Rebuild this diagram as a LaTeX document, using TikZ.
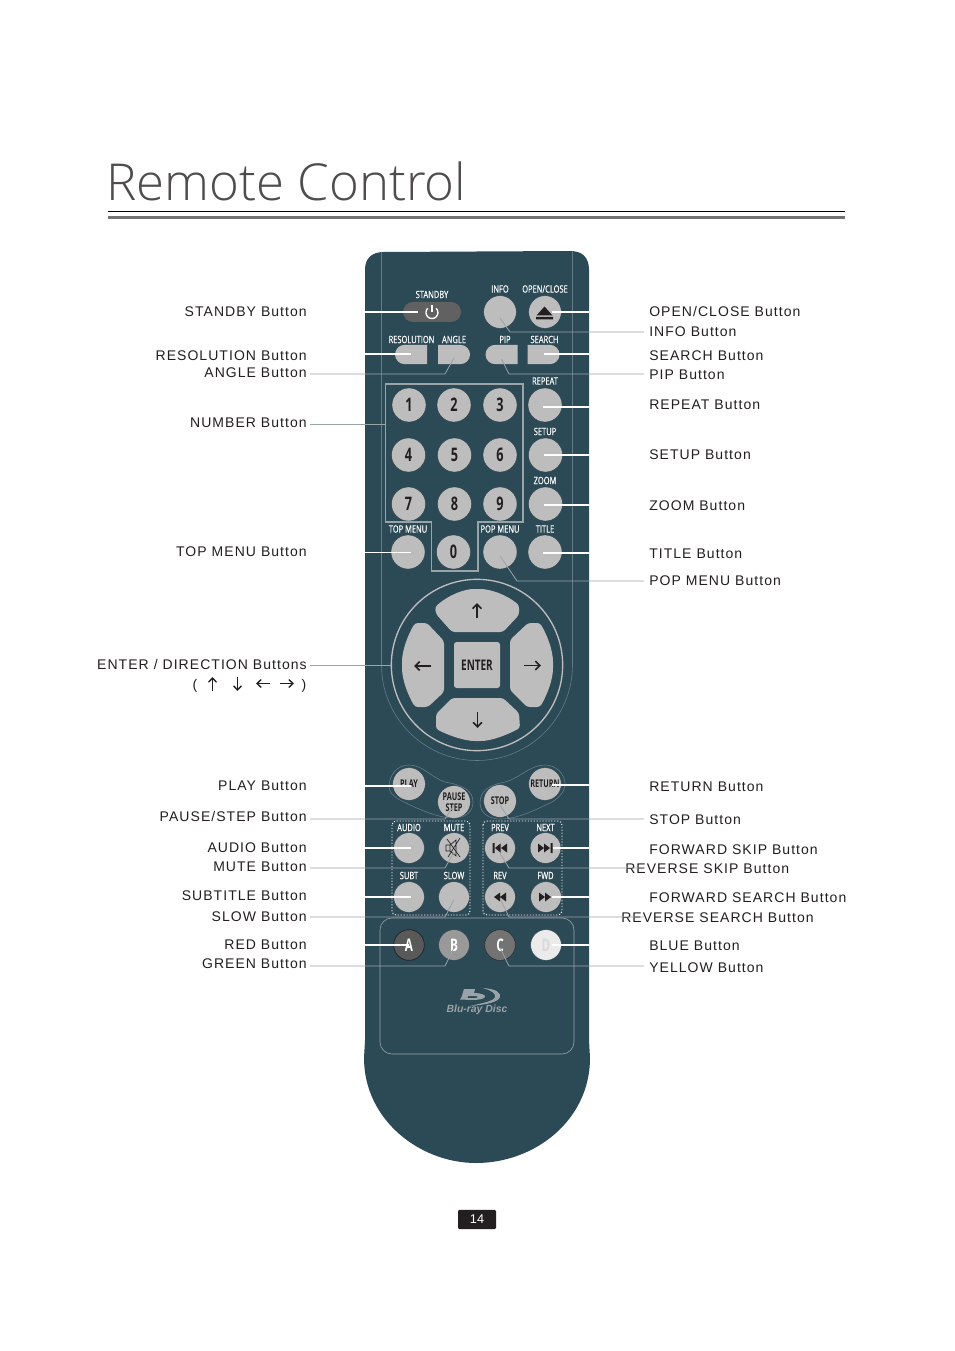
\documentclass[tikz,border=0pt]{standalone}
\usepackage{fontspec}
\usetikzlibrary{shapes.misc,arrows.meta}
\setmainfont{Liberation Sans}
\newfontfamily\lblfont[LetterSpace=7.5]{Liberation Sans}
\newfontfamily\condfont[FakeStretch=0.68]{Open Sans}
\newfontfamily\capfont[FakeStretch=0.74,FakeBold=0.6]{Open Sans}
\newfontfamily\titlefont{Open Sans Light}
\definecolor{rbody}{HTML}{2C4956}
\definecolor{rkey}{HTML}{BDBDBD}
\definecolor{rthin}{HTML}{637C87}
\definecolor{rlead}{HTML}{9AA3A7}
\definecolor{rink}{HTML}{231F20}
\tikzset{
 lbl/.style={inner sep=0pt,text height=7.6pt,text depth=0pt,font=\lblfont\fontsize{10.5pt}{12pt}\selectfont,text=rink},
 lblL/.style={lbl,anchor=east},
 lblR/.style={lbl,anchor=west},
 keyb/.style={circle,fill=rkey,draw=rbody!70!black,line width=0.2pt,inner sep=0pt,minimum size=24.5pt,text=rink,align=center},
 keys/.style={keyb,minimum size=23pt},
 digit/.style={keyb,minimum size=25.5pt,font=\condfont\bfseries\fontsize{14pt}{14pt}\selectfont},
 smalltext/.style={font=\condfont\bfseries\fontsize{8pt}{8.5pt}\selectfont,text=rink},
 keycap/.style={inner sep=0pt,text=white,font=\capfont\fontsize{7.6pt}{8pt}\selectfont},
 halfkey/.style={rounded rectangle,fill=rkey,inner sep=0pt,minimum width=24pt,minimum height=14.5pt},
 wire/.style={white,line width=0.95pt},
 leader/.style={rlead,line width=0.6pt},
 thinline/.style={rthin,line width=0.45pt},
 frameline/.style={rlead,line width=0.9pt},
 dotbox/.style={white,line width=0.7pt,dash pattern=on 0.9pt off 1.3pt,rounded corners=3pt},
 dirkey/.style={fill=rkey,rounded corners=2.2pt},
 glyph/.style={rink,line width=1.4pt,-{Straight Barb[length=3.4pt,width=6.5pt,line width=1.2pt]}},
 legendarrow/.style={rink,line width=1pt,-{Straight Barb[length=3.2pt,width=6pt,line width=1pt]}},
}
\newcommand{\wireR}[3]{\draw[wire] ([xshift=#2,yshift=#3]#1.center) coordinate (tmpw) -- (tmpw -| bodyR);}
\newcommand{\wireL}[3]{\draw[wire] ([xshift=#2,yshift=#3]#1.center) coordinate (tmpw) -- (tmpw -| bodyL);}
\begin{document}
\begin{tikzpicture}[x=0.75pt,y=-0.75pt]
\useasboundingbox (0,0) rectangle (954,1351);
\fill[white] (0,0) rectangle (954,1351);
% title
\node[anchor=base west,inner sep=0pt,text=rink!80,font=\titlefont\fontsize{38.2pt}{42pt}\selectfont] (title) at (106,201) {Remote Control};
\coordinate (ruleA) at (108,211.8); \coordinate (ruleB) at (845,211.8);
\coordinate (ruleC) at (108,217.5); \coordinate (ruleD) at (845,217.5);
\draw[black,line width=0.6pt] (ruleA) -- (ruleB);
\draw[black!55,line width=2pt] (ruleC) -- (ruleD);
% body
\fill[rbody] (365,270) .. controls (365,258) and (372,252) .. (384,252) -- (570,251)
  .. controls (582,251) and (589,257) .. (589,270) -- (589,1040) -- (590,1058)
  .. controls (590,1120) and (535,1163) .. (476,1163)
  .. controls (420,1163) and (364,1120) .. (364,1058) -- (365,1040) -- cycle;
\coordinate (bodyL) at (365,0); \coordinate (bodyR) at (589,0);
\draw[thinline] (381.5,252) -- (381.5,665) arc[start angle=180,end angle=0,radius=95.5] -- (572.5,251);
% number frame
\draw[frameline] (385.5,384) -- (523,384) -- (523,522) -- (478,522) -- (478,571) -- (431.5,571) -- (431.5,522) -- (385.5,522) -- cycle;
\coordinate (numW) at (385.5,424);
% captions
\node[keycap] (cStandby) at (432,294.5) {STANDBY};
\node[keycap] (cInfo) at (500,289) {INFO};
\node[keycap] (cOpen) at (545,289) {OPEN/CLOSE};
\node[keycap] (cRes) at (411.5,339.5) {RESOLUTION};
\node[keycap] (cAngle) at (454,339.5) {ANGLE};
\node[keycap] (cPip) at (505,339.5) {PIP};
\node[keycap] (cSearch) at (544.5,339.5) {SEARCH};
\node[keycap] (cRepeat) at (545,381) {REPEAT};
\node[keycap] (cSetup) at (545,431.5) {SETUP};
\node[keycap] (cZoom) at (545,480.5) {ZOOM};
\node[keycap] (cTop) at (408,529) {TOP MENU};
\node[keycap] (cPop) at (500,529) {POP MENU};
\node[keycap] (cTitle) at (545,529) {TITLE};
\node[keycap] (cAudio) at (409,827.5) {AUDIO};
\node[keycap] (cMute) at (454,827.5) {MUTE};
\node[keycap] (cPrev) at (500,827.5) {PREV};
\node[keycap] (cNext) at (545.5,827.5) {NEXT};
\node[keycap] (cSubt) at (409,875.5) {SUBT};
\node[keycap] (cSlow) at (454,875.5) {SLOW};
\node[keycap] (cRev) at (500,875.5) {REV};
\node[keycap] (cFwd) at (545.5,875.5) {FWD};
% top keys
\node[rounded rectangle,fill=black!62,minimum width=43.5pt,minimum height=15pt,inner sep=0pt] (standby) at (432,312) {};
\draw[white,line width=1pt] (436.2,308.3) arc[start angle=-45,end angle=225,radius=6];
\draw[white,line width=1pt] (432,305) -- (432,312);
\node[keyb] (info) at (500,312) {};
\node[keyb] (open) at (545,312) {};
\fill[rink] (536,317) -- (553,317) -- (553,319.5) -- (536,319.5) -- cycle (536.5,315.5) -- (544.5,306.5) -- (552.5,315.5) -- cycle;
\node[halfkey,rounded rectangle east arc=none] (res) at (411,354.5) {};
\node[halfkey,rounded rectangle west arc=none] (angle) at (454,354.5) {};
\node[halfkey,rounded rectangle east arc=none] (pip) at (501.5,354.5) {};
\node[halfkey,rounded rectangle west arc=none] (search) at (543.5,354.5) {};
% number keys
\node[digit] (k1) at (409,405) {1};
\node[digit] (k2) at (454,405) {2};
\node[digit] (k3) at (500,405) {3};
\node[digit] (repeat) at (545,405) {};
\node[digit] (k4) at (408.5,455) {4};
\node[digit] (k5) at (454.5,455) {5};
\node[digit] (k6) at (500,455) {6};
\node[digit] (setup) at (545.5,455) {};
\node[digit] (k7) at (408.5,504) {7};
\node[digit] (k8) at (454.5,504) {8};
\node[digit] (k9) at (500,504) {9};
\node[digit] (zoom) at (545.5,504) {};
\node[digit] (topmenu) at (408,552) {};
\node[digit] (k0) at (453.5,552) {0};
\node[digit] (popmenu) at (500,552) {};
\node[digit] (titlekey) at (545,552) {};
% direction pad
\node[circle,draw=rkey,line width=1pt,minimum size=128.5pt,inner sep=0pt] (dpad) at (477,665) {};
\fill[dirkey] (477,632) -- (452,632) -- (436,614) -- (435,607) .. controls (450,594) and (465,589) .. (477,589) .. controls (490,589) and (505,594) .. (519,605) -- (519,615) -- (503,632) -- cycle;
\fill[dirkey] (477,698) -- (503,698) -- (519,713) -- (520,728) .. controls (505,736) and (490,741) .. (478,741) .. controls (465,741) and (450,736) .. (436,729) -- (436,714) -- (452,698) -- cycle;
\fill[dirkey] (444,665) -- (444,692) -- (428,707) -- (415,707) .. controls (408,695) and (402,680) .. (402,665) .. controls (402,650) and (408,635) .. (415,623) -- (427,623) -- (444,641) -- cycle;
\fill[dirkey] (510,665) -- (510,640) -- (528,623) -- (540,623) .. controls (547,635) and (553,650) .. (553,665) .. controls (553,680) and (547,695) .. (540,707) -- (527,707) -- (510,690) -- cycle;
\node[fill=rkey,rounded corners=2pt,minimum width=34.5pt,minimum height=34.5pt,inner sep=0pt,text=rink,font=\condfont\bfseries\fontsize{11pt}{12pt}\selectfont] (enter) at (477,665) {ENTER};
\draw[glyph] (477,618) -- (477,603);
\draw[glyph] (477.5,712) -- (477.5,728);
\draw[glyph] (431,666) -- (414,666);
\draw[glyph] (524,665.5) -- (541,665.5);
% play/stop blobs
\draw[thinline] (389,787) .. controls (389,774) and (398,765) .. (409,765) .. controls (423,765) and (432,778) .. (445,782) .. controls (462,785) and (473,790) .. (473,802) .. controls (473,812) and (465,818) .. (454,818) .. controls (438,818) and (420,810) .. (400,800) .. controls (393,796) and (389,792) .. (389,787) -- cycle;
\draw[thinline] (565,784) .. controls (565,774) and (556,765) .. (545,765) .. controls (530,765) and (520,778) .. (505,782) .. controls (490,785) and (480,790) .. (480,803) .. controls (480,813) and (489,819) .. (500,819) .. controls (518,819) and (535,810) .. (552,802) .. controls (560,797) and (565,791) .. (565,784) -- cycle;
\node[keyb,smalltext] (play) at (409,784) {PLAY};
\node[keyb,smalltext] (pause) at (454,802) {PAUSE\\STEP};
\node[keyb,smalltext] (stop) at (500,801) {STOP};
\node[keyb,smalltext] (return) at (545,784) {RETURN};
% dotted boxes
\draw[dotbox] (392,821) rectangle (470,915);
\draw[dotbox] (483,821) rectangle (562,915);
\node[keys] (audio) at (409,848) {};
\node[keys] (mute) at (454,848) {};
\node[keys] (prev) at (500,848) {};
\node[keys] (next) at (545.5,848) {};
\node[keys] (subt) at (409,897) {};
\node[keys] (slow) at (454,897) {};
\node[keys] (rev) at (500,897) {};
\node[keys] (fwd) at (546,897) {};
% icons
\draw[rink,line width=0.5pt] (446,845) -- (450,845) -- (456,840) -- (456,856) -- (450,851) -- (446,851) -- cycle (450,845) -- (450,851) (448,857) -- (460,838);
\draw[rink,line width=0.5pt] (447,839) -- (460,857);
\fill[rink] (492.5,843) rectangle (494.5,853) (495,848) -- (500.5,843.5) -- (500.5,852.5) -- cycle (501,848) -- (507,843.5) -- (507,852.5) -- cycle;
\fill[rink] (538,843.5) -- (544,848) -- (538,852.5) -- cycle (544,843.5) -- (550,848) -- (544,852.5) -- cycle (550.5,843) rectangle (552.5,853);
\fill[rink] (494,897) -- (500,892.5) -- (500,901.5) -- cycle (500,897) -- (506,892.5) -- (506,901.5) -- cycle;
\fill[rink] (539,892.5) -- (545,897) -- (539,901.5) -- cycle (545,892.5) -- (551,897) -- (545,901.5) -- cycle;
% colour keys
\draw[rlead,line width=0.45pt,rounded corners=9pt] (380,918) rectangle (574,1054);
\tikzset{colorkey/.style={keys,font=\condfont\bfseries\fontsize{13pt}{14pt}\selectfont,text=white}}
\node[colorkey,fill=black!65,draw=rink,line width=0.5pt] (keyA) at (409,945) {A};
\node[colorkey,fill=black!40] (keyB) at (454,945) {B};
\node[colorkey,fill=black!55,draw=rink,line width=0.3pt] (keyC) at (500,945) {C};
\node[colorkey,fill=black!8,text=black!15!white] (keyD) at (546,945) {D};
% blu-ray logo
\fill[rlead] (483,988) .. controls (497,989) and (501,993) .. (500,997) .. controls (499,1002) and (485,1005) .. (470,1006) .. controls (483,1003) and (494,1001) .. (495,997) .. controls (496,993) and (490,990) .. (483,988) -- cycle;
\fill[rlead,even odd rule] (464,989) -- (475,989) -- (474,993) .. controls (481,993) and (486,995) .. (485,997) .. controls (484,999) and (478,1000) .. (472,1000) -- (460,999.5) -- (461.5,997) -- cycle (468,996) -- (467.5,998) -- (475,998) .. controls (478,998) and (479,996) .. (475,996) -- cycle;
\node[inner sep=0pt,text=rlead,font=\fontsize{7.8pt}{8pt}\selectfont\bfseries\itshape] (blu) at (477,1010) {Blu-ray Disc};
% page number
\node[fill=rink,text=white,rounded corners=1pt,minimum width=28.5pt,minimum height=14.5pt,inner sep=0pt,font=\fontsize{9.5pt}{10pt}\selectfont] (page) at (477,1219.5) {14};
% white wires
\wireL{standby}{-10.5pt}{0pt}
\wireL{res}{0pt}{0.4pt}
\wireL{topmenu}{2.2pt}{-0.5pt}
\wireL{play}{1.5pt}{-1.5pt}
\wireL{audio}{1.5pt}{0pt}
\wireL{subt}{1.5pt}{0pt}
\wireL{keyA}{0pt}{0pt}
\wireR{open}{5.25pt}{0pt}
\wireR{search}{0pt}{0.4pt}
\wireR{repeat}{-1.5pt}{-1.5pt}
\wireR{setup}{-1.5pt}{0pt}
\wireR{zoom}{-1.5pt}{-0.7pt}
\wireR{titlekey}{-1.5pt}{-0.7pt}
\wireR{return}{5.25pt}{-0.7pt}
\wireR{next}{5.25pt}{0pt}
\wireR{fwd}{4.5pt}{0pt}
\wireR{keyD}{4.5pt}{0pt}
% labels left
\node[lblL] (lStandby) at (307,311) {STANDBY Button};
\node[lblL] (lRes) at (307,355) {RESOLUTION Button};
\node[lblL] (lAngle) at (307,372) {ANGLE Button};
\node[lblL] (lNumber) at (307,422) {NUMBER Button};
\node[lblL] (lTop) at (307,551) {TOP MENU Button};
\node[lblL] (lEnter) at (307,664) {ENTER / DIRECTION Buttons};
\node[lbl] (pOpen) at (195,684) {(};
\node[lbl] (pClose) at (304,684) {)};
\node[lblL] (lPlay) at (307,785) {PLAY Button};
\node[lblL] (lPause) at (307,816) {PAUSE/STEP Button};
\node[lblL] (lAudio) at (307,847) {AUDIO Button};
\node[lblL] (lMute) at (307,866) {MUTE Button};
\node[lblL] (lSubt) at (307,895) {SUBTITLE Button};
\node[lblL] (lSlow) at (307,916) {SLOW Button};
\node[lblL] (lRed) at (307,944) {RED Button};
\node[lblL] (lGreen) at (307,963) {GREEN Button};
\draw[legendarrow] (212.5,691) -- (212.5,677);
\draw[legendarrow] (237.5,677) -- (237.5,691);
\draw[legendarrow] (270,683.5) -- (256,683.5);
\draw[legendarrow] (280,683.5) -- (294,683.5);
% labels right
\node[lblR] (rOpen) at (649,311) {OPEN/CLOSE Button};
\node[lblR] (rInfo) at (649,331) {INFO Button};
\node[lblR] (rSearch) at (649,355) {SEARCH Button};
\node[lblR] (rPip) at (649,374) {PIP Button};
\node[lblR] (rRepeat) at (649,404) {REPEAT Button};
\node[lblR] (rSetup) at (649,454) {SETUP Button};
\node[lblR] (rZoom) at (649,505) {ZOOM Button};
\node[lblR] (rTitle) at (649,553) {TITLE Button};
\node[lblR] (rPop) at (649,580) {POP MENU Button};
\node[lblR] (rReturn) at (649,786) {RETURN Button};
\node[lblR] (rStop) at (649,819) {STOP Button};
\node[lblR] (rFSkip) at (649,849) {FORWARD SKIP Button};
\node[lblR] (rRSkip) at (625,868) {REVERSE SKIP Button};
\node[lblR] (rFSearch) at (649,897) {FORWARD SEARCH Button};
\node[lblR] (rRSearch) at (621,917) {REVERSE SEARCH Button};
\node[lblR] (rBlue) at (649,945) {BLUE Button};
\node[lblR] (rYellow) at (649,967) {YELLOW Button};
% grey leaders left
\coordinate (eAngle) at (310,374);
\coordinate (eNumber) at (310,424);
\coordinate (eEnter) at (310,665);
\coordinate (ePause) at (310,819);
\coordinate (eMute) at (310,868);
\coordinate (eSlow) at (310,917);
\coordinate (eGreen) at (310,966);
\draw[leader] (eAngle) -- (445,374) -- ([yshift=-2.5pt]angle.center);
\draw[leader] (eNumber) -- (numW);
\draw[leader] (eEnter) -- (dpad.west);
\draw[leader] (ePause) -- (445,819) -- ([yshift=-2.5pt]pause.center);
\draw[leader] (eMute) -- (445,868) -- ([yshift=-3pt]mute.center);
\draw[leader] (eSlow) -- (445,917) -- ([yshift=-2pt]slow.center);
\draw[leader] (eGreen) -- (445,966) -- ([yshift=-2pt]keyB.center);
% grey leaders right
\coordinate (fInfo) at (644,332);
\coordinate (fPip) at (644,374);
\coordinate (fPop) at (644,581);
\coordinate (fStop) at (644,819);
\coordinate (fPrev) at (644,868);
\coordinate (fRev) at (644,917);
\coordinate (fYellow) at (644,966);
\draw[leader] (fInfo) -- (510,332) -- ([yshift=-4.5pt]info.center);
\draw[leader] (fPip) -- (509,374) -- ([yshift=-3.5pt]pip.center);
\draw[leader] (fPop) -- (517,581) -- ([yshift=-3pt]popmenu.center);
\draw[leader] (fStop) -- (509,819) -- ([yshift=-3pt]stop.center);
\draw[leader] (fPrev) -- (509,868) -- ([yshift=-4pt]prev.center);
\draw[leader] (fRev) -- (509,917) -- ([yshift=-1pt]rev.center);
\draw[leader] (fYellow) -- (509,966) -- ([yshift=-2pt]keyC.center);
\end{tikzpicture}
\end{document}
